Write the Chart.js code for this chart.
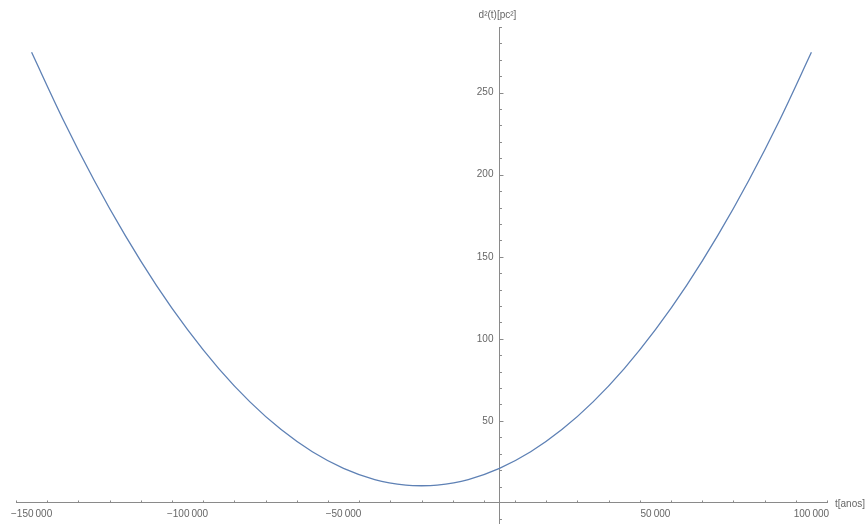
<!DOCTYPE html>
<html>
<head>
<meta charset="utf-8">
<script src="https://cdn.jsdelivr.net/npm/chart.js@4/dist/chart.umd.min.js"></script>
<style>
  html, body { margin: 0; padding: 0; background: #fff; }
  canvas { display: block; }
</style>
</head>
<body>
<canvas id="curveChart" width="867" height="525"></canvas>
<script>
// t in years, d^2 in pc^2
const tValues = [-150000, -140000, -130000, -120000, -110000, -100000, -90000, -80000, -70000,
  -60000, -50000, -40000, -30000, -25000, -20000, -10000, 0, 10000, 20000, 30000, 40000,
  50000, 60000, 70000, 80000, 90000, 100000];
const d2Values = [274.6, 234.0, 196.8, 163.0, 132.6, 105.6, 81.9, 61.6, 44.7,
  31.2, 21.1, 14.3, 10.9, 10.5, 10.9, 14.3, 21.1, 31.2, 44.7, 61.6, 81.9,
  105.6, 132.6, 163.0, 196.8, 234.0, 274.6];
const xLabelTicks = [-150000, -100000, -50000, 50000, 100000];
const yLabelTicks = [50, 100, 150, 200, 250];

const axisColor = '#8a8a8a';
const textColor = '#666';
const labelFont = '10px Liberation Sans, Arial, sans-serif';

function fmt(v) {
  const s = Math.abs(v).toString().replace(/\B(?=(\d{3})+(?!\d))/g, '\u2009');
  return (v < 0 ? '\u2212' : '') + s;
}

// Mathematica-style ticks (pointing into the plot) and labels
const axisDecor = {
  id: 'axisDecor',
  afterDraw(chart) {
    const { ctx, scales: { x, y } } = chart;
    const x0 = x.getPixelForValue(0);
    const y0 = y.getPixelForValue(0);
    ctx.save();
    ctx.strokeStyle = axisColor;
    ctx.lineWidth = 1;
    ctx.beginPath();
    x.ticks.forEach(t => {
      if (t.value === 0) return;
      const px = Math.round(x.getPixelForValue(t.value)) + 0.5;
      const len = t.value % 50000 === 0 ? 4 : 2.5;
      ctx.moveTo(px, y0);
      ctx.lineTo(px, y0 - len);
    });
    y.ticks.forEach(t => {
      if (t.value === 0) return;
      const py = Math.round(y.getPixelForValue(t.value)) + 0.5;
      const len = t.value % 50 === 0 ? 4 : 2.5;
      ctx.moveTo(x0, py);
      ctx.lineTo(x0 + len, py);
    });
    ctx.stroke();

    ctx.fillStyle = textColor;
    ctx.font = labelFont;
    ctx.textBaseline = 'middle';
    ctx.textAlign = 'center';
    xLabelTicks.forEach(v => ctx.fillText(fmt(v), x.getPixelForValue(v), y0 + 11));
    ctx.textAlign = 'right';
    yLabelTicks.forEach(v => ctx.fillText(String(v), x0 - 6, y.getPixelForValue(v)));

    ctx.textAlign = 'center';
    ctx.fillText('d\u00b2(t)[pc\u00b2]', x0 - 2, 15);
    ctx.textAlign = 'left';
    ctx.fillText('t[anos]', x.right + 8, y0 + 1);
    ctx.restore();
  }
};

const ctx = document.getElementById('curveChart').getContext('2d');
new Chart(ctx, {
  type: 'line',
  data: {
    datasets: [{
      data: tValues.map((t, i) => ({ x: t, y: d2Values[i] })),
      borderColor: '#5E81B5',
      borderWidth: 1.3,
      pointRadius: 0,
      cubicInterpolationMode: 'monotone',
      fill: false
    }]
  },
  options: {
    responsive: false,
    animation: false,
    layout: { padding: { left: 16, right: 40, top: 27, bottom: 2 } },
    plugins: { legend: { display: false }, tooltip: { enabled: false } },
    scales: {
      x: {
        type: 'linear',
        position: { y: 0 },
        min: -155000,
        max: 105000,
        grid: { drawOnChartArea: false, drawTicks: false },
        border: { color: axisColor, width: 1 },
        ticks: { display: false, stepSize: 10000, autoSkip: false, includeBounds: false }
      },
      y: {
        type: 'linear',
        position: { x: 0 },
        min: -12.2,
        max: 290,
        grid: { drawOnChartArea: false, drawTicks: false },
        border: { color: axisColor, width: 1 },
        ticks: { display: false, stepSize: 10, autoSkip: false, includeBounds: false }
      }
    }
  },
  plugins: [axisDecor]
});
</script>
</body>
</html>
